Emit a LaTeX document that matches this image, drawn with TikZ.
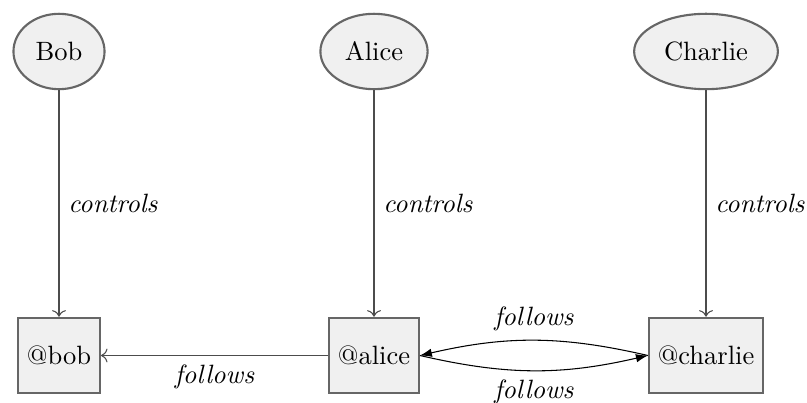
\documentclass[tikz,border=0pt]{standalone}
\usetikzlibrary{shapes.geometric,arrows.meta}
\begin{document}
\begin{tikzpicture}[x=0.3774pt,y=-0.3774pt,
  person/.style={ellipse,draw=black!60,line width=0.8pt,fill=black!6,minimum height=1cm},
  account/.style={rectangle,draw=black!60,line width=0.8pt,fill=black!6,minimum size=1cm},
  ctrl/.style={draw=black!70,->},
  follow/.style={draw=black,-{Latex[length=4.5pt,width=3.2pt]}},
  lbl/.style={font=\itshape}]
  \useasboundingbox (0,0) rectangle (807,403);
  % people
  \node[person] (bob) at (59,51.5) {Bob};
  \node[person] (alice) at (374,51.5) {Alice};
  \node[person] (charlie) at (706,51.5) {Charlie};
  % accounts
  \node[account] (abob) at (59,355.5) {@bob};
  \node[account] (aalice) at (374,355.5) {@alice};
  \node[account] (acharlie) at (706,355.5) {@charlie};
  % control edges
  \draw[ctrl] (bob) -- node[right,lbl] {controls} (abob);
  \draw[ctrl] (alice) -- node[right,lbl] {controls} (aalice);
  \draw[ctrl] (charlie) -- node[right,lbl] {controls} (acharlie);
  % follow edges
  \draw[ctrl] (aalice) -- node[below,lbl] {follows} (abob);
  \draw[follow] (aalice.east) to[bend right=13] node[below,lbl] {follows} (acharlie.west);
  \draw[follow] (acharlie.west) to[bend right=13] node[above,lbl] {follows} (aalice.east);
\end{tikzpicture}
\end{document}
